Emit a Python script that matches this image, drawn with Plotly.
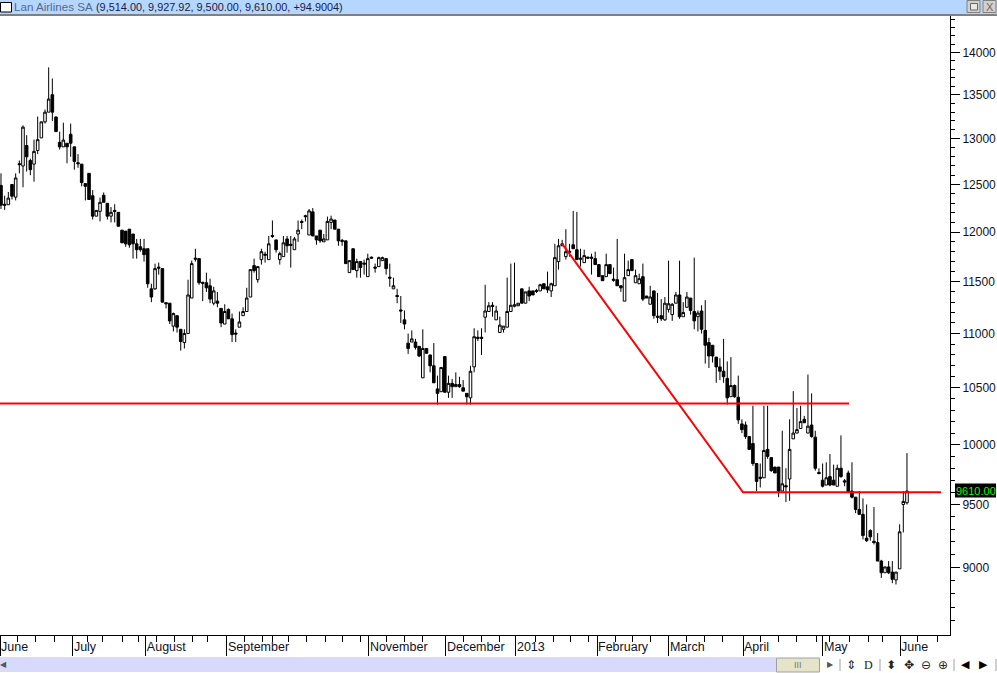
import plotly.graph_objects as go

opens = [12490,12290,12285,12500,12365,12725,12700,12925,12760,12720,
12870,13010,13190,13300,13500,13245,12960,12910,12950,13050,
12910,12735,12720,12510,12620,12380,12165,12215,12385,12300,
12165,12225,12205,12020,12010,12030,11980,11880,11850,11830,
11830,11430,11430,11645,11630,11295,11290,11070,11170,11040,
10915,11000,11340,11735,11730,11495,11490,11460,11290,11310,
11240,11090,11230,11140,11005,11060,11170,11210,11350,11660,
11520,11720,11775,11720,11965,11920,11720,11750,11930,11875,
11820,11980,12110,12170,11970,12210,11960,12020,11900,11920,
12100,12125,12030,11915,11910,11590,11830,11610,11700,11685,
11550,11745,11645,11650,11710,11730,11545,11430,11365,11225,
11130,10910,10920,10920,10880,10590,10860,10800,10700,10490,
10465,10785,10460,10540,10510,10530,10500,10450,10410,10690,
10965,10965,11155,11210,11270,11130,11010,11040,11060,11210,
11260,11265,11430,11290,11410,11410,11415,11410,11480,11450,
11410,11460,11700,11860,11750,11805,11870,11820,11735,11690,
11745,11745,11730,11670,11560,11550,11670,11525,11520,11460,
11310,11560,11720,11490,11480,11550,11360,11280,11410,11165,
11170,11130,11230,11180,11290,11370,11160,11250,11340,11210,
11160,11215,11030,10915,10890,10780,10690,10650,10585,10420,
10520,10415,10180,10170,10070,10010,9840,9725,9720,9960,
9890,9810,9810,9610,9655,9710,10050,10100,10140,10220,
10100,10170,10065,9765,9700,9660,9730,9700,9650,9800,
9695,9760,9610,9560,9460,9420,9230,9290,9205,9195,
9050,8960,9005,8965,8905,8990,9500,9514]

highs = [12620,12380,12420,12500,12620,12760,13150,13040,12780,12990,
13250,13190,13330,13820,13690,13250,13080,13180,12950,13170,
12910,12830,12720,12510,12620,12440,12225,12360,12415,12300,
12260,12290,12205,12020,12010,12030,11980,11930,11930,11930,
11830,11480,11680,11690,11630,11300,11290,11200,11170,11040,
11040,11520,11710,11830,11730,11495,11590,11530,11450,11400,
11240,11280,11240,11190,11040,11210,11250,11440,11620,11730,
11650,11830,11800,11960,12120,11920,11800,11960,11960,11960,
11950,12120,12130,12180,12240,12250,11960,12020,11980,12160,
12170,12125,12030,11930,11910,11710,11830,11730,11700,11720,
11780,11750,11680,11750,11750,11730,11680,11540,11430,11360,
11220,11000,11030,10950,10880,11040,10860,10800,10910,10610,
10685,10785,10610,10580,10640,10600,10570,10450,10700,11050,
11030,11050,11470,11300,11300,11265,11160,11070,11540,11680,
11690,11290,11430,11400,11450,11410,11430,11480,11480,11600,
11490,11880,11930,11920,12030,11880,12220,12210,11830,11820,
11750,11780,11800,11670,11560,11780,11670,11640,11930,11460,
11780,11710,11720,11620,11580,11680,11360,11460,11410,11390,
11330,11350,11710,11290,11400,11710,11300,11400,11340,11740,
11220,11270,11320,10960,10890,10780,10770,10950,10740,10780,
10530,10610,10220,10200,10070,10340,9840,9840,10340,10340,
9890,9810,9810,10120,9800,10220,10470,10320,10340,10250,
10620,10450,10120,9800,9840,9850,9920,9830,9830,10080,
9710,9780,9850,9560,9610,9550,9500,9300,9480,9270,
9060,9005,9050,9050,8965,9340,9610,9928]

lows = [12240,12230,12285,12340,12330,12620,12470,12640,12600,12530,
12830,13010,13170,13300,13200,13080,12880,12910,12730,12800,
12660,12680,12480,12330,12340,12130,12165,12110,12310,12130,
12100,12100,12060,11890,11850,11840,11730,11730,11800,11700,
11440,11300,11420,11570,11300,11240,11090,11020,11010,10840,
10860,11000,11340,11700,11470,11310,11400,11290,11270,11250,
11060,11090,11140,10920,10920,11060,11170,11210,11350,11590,
11490,11670,11690,11720,11940,11790,11670,11750,11790,11640,
11820,11900,12030,12110,11970,11960,11870,11890,11900,11920,
12030,12030,11860,11860,11680,11590,11620,11540,11540,11570,
11550,11735,11590,11650,11710,11570,11450,11430,11290,11100,
11040,10810,10920,10850,10780,10590,10815,10640,10545,10350,
10465,10460,10410,10410,10510,10500,10470,10350,10350,10640,
10930,10800,11010,11210,11160,11130,11010,11010,11060,11210,
11250,11265,11290,11290,11310,11370,11390,11410,11430,11390,
11350,11460,11620,11860,11720,11750,11830,11720,11650,11690,
11735,11570,11670,11550,11510,11550,11580,11500,11460,11400,
11310,11560,11610,11490,11480,11310,11340,11280,11140,11100,
11120,11120,11200,11120,11290,11140,11160,11250,11180,11040,
11020,11000,10720,10680,10730,10545,10570,10545,10350,10420,
10410,10180,10100,10050,9960,9820,9610,9640,9720,9880,
9770,9760,9560,9610,9520,9530,10050,10100,10140,10190,
10100,10060,9780,9750,9640,9660,9650,9660,9650,9720,
9650,9600,9550,9430,9420,9220,9200,9210,9180,9050,
8920,8960,8950,8880,8870,8990,9275,9500]

closes = [12280,12280,12355,12375,12570,12715,13130,12800,12660,12860,
12990,13190,13300,13450,13300,13080,12910,12985,12910,12950,
12750,12725,12520,12480,12340,12165,12225,12310,12310,12165,
12205,12215,12060,11890,11880,11870,11880,11820,11820,11770,
11480,11350,11630,11635,11300,11285,11120,11190,11060,10925,
11000,11370,11680,11725,11490,11485,11440,11330,11410,11290,
11100,11210,11140,10990,10995,11110,11210,11340,11620,11610,
11650,11800,11765,11880,11955,11820,11780,11890,11860,11865,
11930,12020,12100,12160,12220,11960,11920,11910,11930,12110,
12135,12030,11910,11905,11680,11710,11620,11700,11640,11675,
11730,11735,11635,11740,11740,11630,11535,11460,11355,11215,
11090,10860,10950,10870,10790,10860,10815,10700,10545,10450,
10685,10460,10540,10510,10530,10510,10470,10420,10650,10970,
10955,10955,11215,11265,11260,11215,11080,11070,11210,11270,
11275,11290,11290,11400,11360,11370,11405,11470,11430,11420,
11480,11740,11860,11880,11800,11795,11830,11720,11725,11760,
11735,11735,11670,11550,11510,11670,11580,11515,11460,11440,
11540,11620,11610,11560,11530,11330,11340,11350,11170,11155,
11140,11290,11285,11280,11370,11160,11200,11350,11220,11120,
11195,11040,10890,10790,10790,10690,10650,10600,10410,10520,
10420,10215,10130,10070,9960,9840,9690,9715,9950,9900,
9780,9760,9610,9670,9645,9960,10100,10130,10200,10190,
10160,10070,9800,9755,9650,9720,9660,9660,9800,9730,
9685,9600,9560,9460,9420,9250,9210,9240,9195,9050,
8960,9005,8960,8910,8965,9280,9525,9610]

bar_index = list(range(len(closes)))

month_labels = ["June", "July", "August", "September", "November", "December",
                "2013", "February", "March", "April", "May", "June"]
month_index = [-0.27, 19.6, 39.5, 61.6, 100.3, 121.3, 140.4, 162.5, 182.1, 202.3, 224.1, 245.1]
week_index = [4.6, 9.5, 14.7, 23.7, 27.8, 33, 37.6, 42.5, 47.4, 52.3, 56.4, 66.5, 71.4, 73.9,
              78.5, 83.4, 88.6, 93.2, 98.1, 105.2, 110.1, 115, 126.2, 131.1, 136, 145.6, 150.5,
              155.4, 160.3, 167.4, 172.3, 177.2, 187, 191.9, 196.8, 207.2, 212.1, 217, 222.2,
              226, 231.2, 236.4, 240.2, 250, 255.2]
price_ticks = [9000, 9500, 10000, 10500, 11000, 11500, 12000, 12500, 13000, 13500, 14000]
price_minor = [p for p in range(8500, 14500, 100) if p % 500 != 0]

support_x = [-0.27, 231.2]
support_y = [10360, 10360]
trend_x = [153, 202.3, 256.3]
trend_y = [11880, 9600, 9600]

W, H = 997, 673
L, R, T, B = 0, 47, 16, 38
PW, PH = W - L - R, H - T - B
def px(x): return (x - L) / PW
def py(y): return (H - B - y) / PH

fig = go.Figure()
fig.add_trace(go.Candlestick(
    x=bar_index, open=opens, high=highs, low=lows, close=closes,
    whiskerwidth=0,
    increasing=dict(line=dict(color="black", width=1), fillcolor="white"),
    decreasing=dict(line=dict(color="black", width=1), fillcolor="black"),
    showlegend=False, hoverinfo="skip"))
for xs, ys in ((support_x, support_y), (trend_x, trend_y)):
    fig.add_trace(go.Scatter(x=xs, y=ys, mode="lines", showlegend=False,
                             line=dict(color="#ff0000", width=2), hoverinfo="skip"))

shapes = []
anns = []
def rect(x0, y0, x1, y1, fill, line=None, lw=1):
    shapes.append(dict(type="rect", xref="paper", yref="paper", x0=px(x0), x1=px(x1), y0=py(y0), y1=py(y1),
                       fillcolor=fill, line=dict(color=line or fill, width=lw if line else 0), layer="above"))
def seg(x0, y0, x1, y1, col, lw=1):
    shapes.append(dict(type="line", xref="paper", yref="paper", x0=px(x0), x1=px(x1), y0=py(y0), y1=py(y1),
                       line=dict(color=col, width=lw), layer="above"))
def text(x, y, s, size=12, col="#111122", anchor="left", family="Liberation Sans"):
    anns.append(dict(xref="paper", yref="paper", x=px(x), y=py(y), text=s, showarrow=False, xanchor=anchor,
                     yanchor="middle", xshift=0, font=dict(family=family, size=size, color=col),
                     borderpad=0, borderwidth=0))

# title bar
rect(0, 0, 997, 14, "#b5d7ff")
rect(0, 14, 997, 16, "#808080")
rect(0.5, 2.5, 11.5, 12, "white", "black")
text(14, 7, '<span style="font-size:11.6px;color:#56688a">Lan Airlines SA</span> <span style="font-size:10.9px;color:#1a1a44">(9,514.00, 9,927.92, 9,500.00, 9,610.00, +94.9004)</span>', size=12)
for x0 in (967, 983):
    rect(x0, 0.5, x0 + 13, 12.5, "#d4d0c8", "#808080")
rect(970.5, 3.5, 977.5, 10, "#e8e8e8", "#666666")
text(989.5, 6.5, "X", size=11, col="#666666", anchor="center")

# value flag
rect(955, 483.5, 996, 497.5, "black")
text(975.5, 491, "9610.00", size=11, col="#00ff00", anchor="center")

# bottom bar
rect(0, 657, 997, 673, "white")
rect(0, 657, 776, 672, "#d9d9fb")
text(0, 664.5, "◀", size=8, col="#555555", family="DejaVu Sans")
rect(776.5, 658, 819.5, 672, "#e6e4c8", "#a0a0a0")
text(798, 664.5, "III", size=9, col="#777777", anchor="center")
text(830, 664.5, "▶", size=8, col="#555555", anchor="center", family="DejaVu Sans")
for sx in (840, 880, 954, 996):
    seg(sx, 659, sx, 671, "#a0a0a0")
text(851, 664.5, "⇕", size=12, col="#222222", anchor="center", family="DejaVu Sans")
text(868, 664.5, "D", size=12, col="#222222", anchor="center", family="Liberation Serif")
text(891, 664.5, "⬍", size=12, col="#222222", anchor="center", family="DejaVu Sans")
text(909, 664.5, "✥", size=12, col="#222222", anchor="center", family="DejaVu Sans")
text(926, 664.5, "⊖", size=12, col="#222222", anchor="center", family="DejaVu Sans")
text(943, 664.5, "⊕", size=12, col="#222222", anchor="center", family="DejaVu Sans")
text(965, 664.5, "◀", size=11, col="black", anchor="center", family="DejaVu Sans")
text(983, 664.5, "▶", size=11, col="black", anchor="center", family="DejaVu Sans")

fig.update_layout(
    width=W, height=H, margin=dict(l=L, r=R, t=T, b=B, pad=0),
    paper_bgcolor="white", plot_bgcolor="white", boxgap=0, showlegend=False,
    shapes=shapes, annotations=anns,
    font=dict(family="Liberation Sans", size=12, color="#111122"),
    xaxis=dict(range=[-0.27, 258.73], rangeslider=dict(visible=False), showgrid=False, zeroline=False,
               showline=True, linecolor="black", linewidth=1,
               tickmode="array", tickvals=month_index, ticktext=month_labels,
               ticks="outside", ticklen=20, tickcolor="black", tickwidth=1,
               ticklabelposition="outside right", tickangle=0, tickfont=dict(size=12.5),
               minor=dict(tickmode="array", tickvals=week_index, ticks="outside", ticklen=6,
                          tickcolor="black", tickwidth=1, showgrid=False)),
    yaxis=dict(type="log", side="right", range=[3.92912, 4.15966], showgrid=False, zeroline=False,
               showline=True, linecolor="black", linewidth=1,
               tickmode="array", tickvals=price_ticks, ticktext=[str(p) for p in price_ticks],
               ticks="outside", ticklen=9, tickcolor="black", tickwidth=1,
               minor=dict(tickmode="array", tickvals=price_minor, ticks="outside", ticklen=4,
                          tickcolor="black", tickwidth=1, showgrid=False)),
)

fig.write_html("out.html", config=dict(displayModeBar=False),
               post_script="document.body.style.margin='0';")
